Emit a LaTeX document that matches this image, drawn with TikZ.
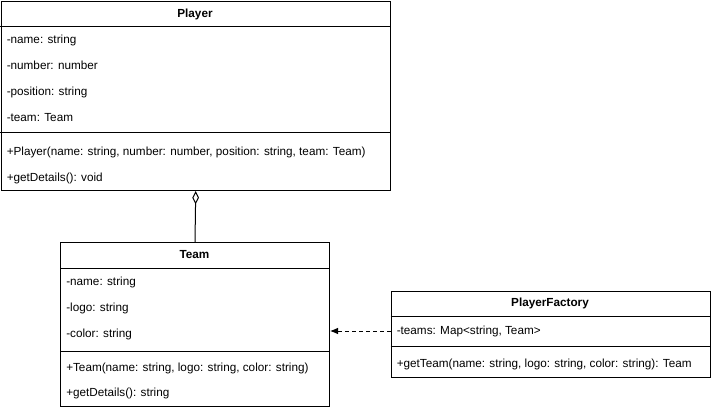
\documentclass[tikz,border=0pt]{standalone}
\usepackage{fontspec}
\setmainfont{Liberation Sans}
\usetikzlibrary{arrows.meta}

\tikzset{
  classbox/.style={draw,line width=0.75pt,anchor=north west,inner sep=0pt},
  head/.style={font=\fontsize{8.8}{11}\selectfont\bfseries,text height=6.4pt,text depth=1.8pt},
  member/.style={anchor=west,inner xsep=4.5pt,inner ysep=0pt,text height=6.4pt,text depth=1.8pt,font=\fontsize{8.8}{11}\selectfont},
  rule/.style={line width=0.75pt}
}

\begin{document}
\begin{tikzpicture}[x=0.75pt,y=-0.75pt]
\useasboundingbox (0,0) rectangle (711,410);
% Player
\draw (0.5,1) node[classbox,minimum width=292.1pt,minimum height=141.75pt](player) {};
\draw (195,14) node[head](playerhead) {Player};
\draw[rule] (player.west |- 0,27) -- (player.east |- 0,27);
\draw (0.5,40.5) node[member](pname) {-name: string};
\draw (0.5,66.5) node[member](pnumber) {-number: number};
\draw (0.5,92) node[member](pposition) {-position: string};
\draw (0.5,118) node[member](pteam) {-team: Team};
\draw[rule] (player.west |- 0,133) -- (player.east |- 0,133);
\draw (0.5,152.5) node[member](pctor) {+Player(name: string, number: number, position: string, team: Team)};
\draw (0.5,178) node[member](pdetails) {+getDetails(): void};
% Team
\draw (60,242) node[classbox,minimum width=201.75pt,minimum height=123pt](team) {};
\draw (194.5,255) node[head](teamhead) {Team};
\draw[rule] (team.west |- 0,268) -- (team.east |- 0,268);
\draw (60,282) node[member](tname) {-name: string};
\draw (60,308) node[member](tlogo) {-logo: string};
\draw (60,334) node[member](tcolor) {-color: string};
\draw[rule] (team.west |- 0,351) -- (team.east |- 0,351);
\draw (60,368) node[member](tctor) {+Team(name: string, logo: string, color: string)};
\draw (60,393) node[member](tdetails) {+getDetails(): string};
% PlayerFactory
\draw (390.5,290.5) node[classbox,minimum width=239.6pt,minimum height=64.5pt](factory) {};
\draw (550,303) node[head](factoryhead) {PlayerFactory};
\draw[rule] (factory.west |- 0,316) -- (factory.east |- 0,316);
\draw (390.5,331) node[member](fteams) {-teams: Map<string, Team>};
\draw[rule] (factory.west |- 0,346.5) -- (factory.east |- 0,346.5);
\draw (390.5,364) node[member](fgetteam) {+getTeam(name: string, logo: string, color: string): Team};
% relations
\draw[rule,{Diamond[open,length=10pt,width=5pt]}-] (player.south) -- (team.north);
\draw[rule,dash pattern=on 3pt off 2.25pt,-{Latex[length=6pt,width=5pt]}] (fteams.west) -- (team.east |- fteams.west);
\end{tikzpicture}
\end{document}
